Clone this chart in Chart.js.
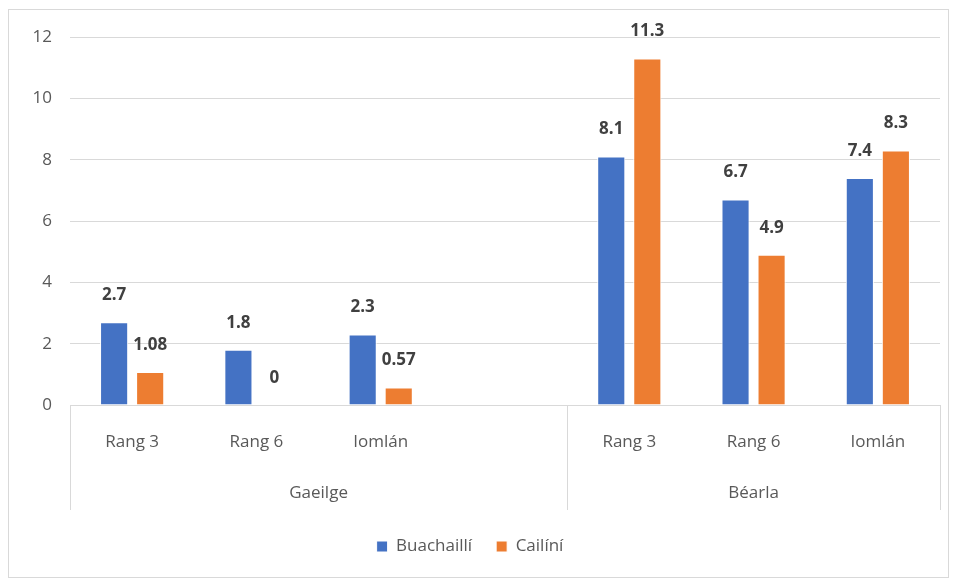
<!DOCTYPE html>
<html>
<head>
<meta charset="utf-8">
<script src="https://cdn.jsdelivr.net/npm/chart.js@4.4.0/dist/chart.umd.min.js"></script>
<style>
    html, body { margin: 0; padding: 0; background: #ffffff; }
    #wrap { position: relative; width: 957px; height: 581px; }
</style>
</head>
<body>
<div id="wrap"><canvas id="scoreBar"></canvas></div>
<script>
// categories (an empty slot separates the two groups, like the original)
const categories = ['Rang 3', 'Rang 6', 'Iomlán', '', 'Rang 3', 'Rang 6', 'Iomlán'];
const groups = ['Gaeilge', 'Béarla'];
const groupSizes = [4, 3];

const buachailli = [2.7, 1.8, 2.3, null, 8.1, 6.7, 7.4];
const cailini = [1.08, 0, 0.57, null, 11.3, 4.9, 8.3];

const yTicks = [0, 2, 4, 6, 8, 10, 12];

const FONT = "'Open Sans', 'Noto Sans', sans-serif";
const LINE = '#d9d9d9';
const TEXT = '#595959';

// value labels above each bar
const valueLabels = {
    id: 'valueLabels',
    afterDatasetsDraw(chart) {
        const ctx = chart.ctx;
        ctx.save();
        ctx.font = 'bold 17px ' + FONT;
        ctx.fillStyle = '#404040';
        ctx.textAlign = 'center';
        ctx.textBaseline = 'middle';
        chart.data.datasets.forEach(function(ds, i) {
            const meta = chart.getDatasetMeta(i);
            meta.data.forEach(function(bar, j) {
                const v = ds.data[j];
                if (v === null || v === undefined) return;
                ctx.fillText(String(v), bar.x, bar.y - 27);
            });
        });
        ctx.restore();
    }
};

// group labels, divider lines and the outer frame
const groupAxis = {
    id: 'groupAxis',
    afterDraw(chart) {
        const ctx = chart.ctx;
        const x = chart.scales.x;
        const area = chart.chartArea;
        const step = (x.right - x.left) / categories.length;
        ctx.save();
        ctx.strokeStyle = LINE;
        ctx.lineWidth = 1;

        // outer frame
        ctx.strokeRect(8.5, 9.5, 940, 568);

        let edges = [x.left];
        let start = 0;
        groupSizes.forEach(function(n) {
            start += n;
            edges.push(x.left + step * start);
        });
        edges.forEach(function(px) {
            const xx = Math.round(px) + 0.5;
            ctx.beginPath();
            ctx.moveTo(xx, area.bottom);
            ctx.lineTo(xx, area.bottom + 105);
            ctx.stroke();
        });

        ctx.font = '17px ' + FONT;
        ctx.fillStyle = TEXT;
        ctx.textAlign = 'center';
        ctx.textBaseline = 'middle';
        groups.forEach(function(g, i) {
            ctx.fillText(g, (edges[i] + edges[i + 1]) / 2, area.bottom + 88);
        });
        ctx.restore();
    }
};

const ctx = document.getElementById('scoreBar').getContext('2d');
window.myScoreChart = new Chart(ctx, {
    type: 'bar',
    data: {
        labels: categories,
        datasets: [
            {
                label: 'Buachaillí',
                data: buachailli,
                backgroundColor: '#4472c4',
                borderColor: '#ffffff',
                borderWidth: 1,
                categoryPercentage: 0.58,
                barPercentage: 0.78
            },
            {
                label: 'Cailíní',
                data: cailini,
                backgroundColor: '#ed7d31',
                borderColor: '#ffffff',
                borderWidth: 1,
                categoryPercentage: 0.58,
                barPercentage: 0.78
            }
        ]
    },
    options: {
        responsive: true,
        maintainAspectRatio: false,
        animation: false,
        layout: {
            padding: { top: 37, right: 17, bottom: 16, left: 0 }
        },
        plugins: {
            legend: {
                position: 'bottom',
                labels: {
                    color: TEXT,
                    font: { family: FONT, size: 17 },
                    boxWidth: 11,
                    boxHeight: 11,
                    padding: 24
                }
            },
            tooltip: { enabled: false }
        },
        scales: {
            y: {
                min: 0,
                max: 12,
                afterBuildTicks: function(scale) {
                    scale.ticks = yTicks.map(function(v) { return { value: v }; });
                },
                afterFit: function(scale) { scale.width = 70; },
                grid: { color: LINE, drawTicks: false },
                border: { display: false },
                ticks: {
                    color: TEXT,
                    font: { family: FONT, size: 17 },
                    padding: 18
                }
            },
            x: {
                afterFit: function(scale) { scale.height = 109; },
                grid: { display: false },
                border: { display: false },
                ticks: {
                    color: TEXT,
                    font: { family: FONT, size: 17 },
                    padding: 19,
                    maxRotation: 0,
                    autoSkip: false
                }
            }
        }
    },
    plugins: [valueLabels, groupAxis]
});
</script>
</body>
</html>
